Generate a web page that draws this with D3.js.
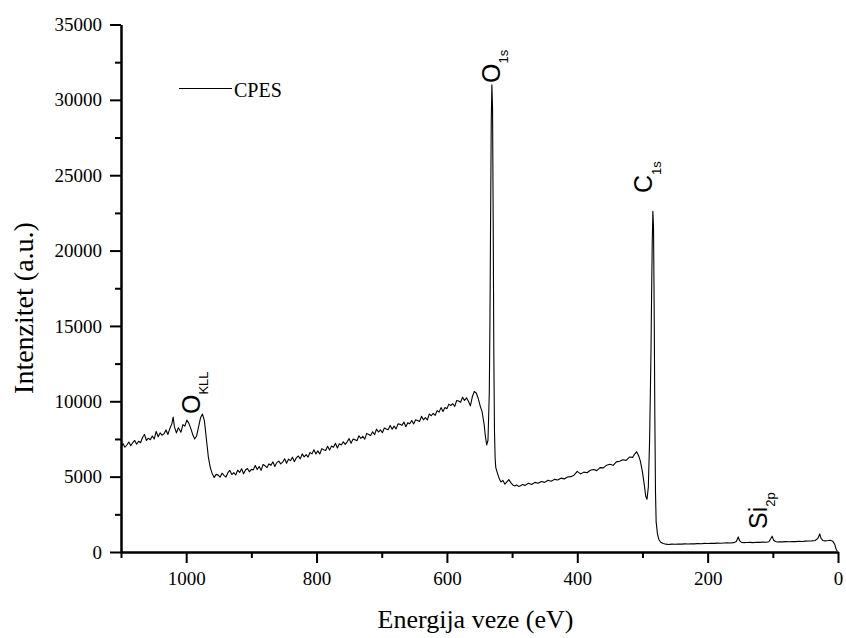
<!DOCTYPE html>
<html>
<head>
<meta charset="utf-8">
<script src="https://cdn.jsdelivr.net/npm/d3@7"></script>
<style>
  html, body { margin: 0; padding: 0; background: #fff; }
  svg { display: block; }
  .serif { font-family: "Liberation Serif", "Times New Roman", Times, Tinos, "DejaVu Serif", "Noto Serif", serif; }
  .sans { font-family: "Liberation Sans", Arial, Helvetica, Arimo, sans-serif; }
</style>
</head>
<body>
<svg id="chart" width="846" height="638"></svg>
<script>
// ---- Data ----
const energy = [
  1100,1097,1094,1091,1088,1085,1082,1079,1076,1073,1070,1067,1064,1061,1058,1055,1052,1049,1046,1043,1040,1037,1034,1031,1028,1025,
  1022,1020,1018,1015,1012,1008,1005,1002,999,996,993,990,987,984,981,978,975,972,969,966,963,960,957,954,
  951,948,945,942,939,936,933,930,927,924,921,918,915,912,909,906,903,900,
  897,894,891,888,885,882,879,876,873,870,867,864,861,858,855,852,
  849,846,843,840,837,834,831,828,825,822,819,816,813,810,807,804,801,
  798,795,792,789,786,783,780,777,774,771,768,765,762,759,756,753,750,
  747,744,741,738,735,732,729,726,723,720,717,714,711,708,705,702,
  699,696,693,690,687,684,681,678,675,672,669,666,663,660,657,654,651,
  648,645,642,639,636,633,630,627,624,621,618,615,612,609,606,603,600,597,594,591,588,585,582,579,576,573,570,
  567,564,561,558,555,552,549,546,543,541,539,537,
  535,534,533,532,531,530,529,528,527,526,525,
  523,520,517,514,511,508,505,502,499,496,493,490,487,484,
  480,475,470,465,460,455,450,445,440,435,430,425,420,415,410,405,400,395,390,385,380,375,370,365,360,355,350,345,340,335,330,325,320,315,
  312,309,306,303,300,297,295,293,291,
  289,287,286,285,284,283,282,281,280,279,277,275,272,268,264,260,
  255,250,245,240,235,230,225,220,215,210,205,200,195,190,185,180,175,170,165,160,
  156,153,151,148,144,140,135,130,125,120,115,110,106,103,101,99,96,93,90,
  85,80,75,70,65,60,55,50,45,40,35,31,28,26,23,20,15,12,8,5,3,1
];
const intensity = [
  6900,7200,6950,7100,7300,7050,7250,7400,7150,7350,7250,7600,7800,7400,7550,7450,7700,7500,8000,7650,7900,7750,7850,8100,7800,8200,
  8500,8950,8300,7900,8250,7950,8450,8350,8750,8550,8200,7800,7500,7700,8300,8900,9150,8700,7500,6300,5600,5200,4950,5150,
  5100,4960,5230,5090,4970,5260,5410,5140,5270,5110,5430,5280,5530,5190,5440,5540,5320,5480,
  5450,5740,5470,5670,5420,5810,5720,5600,5850,5750,5980,5670,5930,6030,5850,5960,
  6190,5890,6160,6060,6290,5990,6250,6370,6180,6510,6310,6460,6300,6600,6510,6780,6500,
  6710,6500,6860,6780,6740,7010,6760,7030,6950,7210,6900,7180,7100,7310,7140,7310,7520,
  7220,7490,7450,7380,7710,7530,7680,7490,7870,7800,7730,7980,7780,8150,7960,8110,
  7910,8230,8160,8120,8400,8150,8350,8170,8500,8480,8400,8620,8310,8580,8510,8720,8500,
  8770,8730,8660,9000,8770,8920,8760,9160,9040,9200,9070,9380,9280,9580,9320,9590,9510,9810,9720,9840,9660,10050,10020,9940,10270,10050,10230,
  10000,9700,10300,10650,10550,10200,9700,9300,8500,7700,7100,7400,
  10500,15000,22000,28500,31000,29500,22000,13000,8000,6200,5600,
  5300,4900,4650,4750,4500,4650,4800,4600,4450,4380,4450,4350,4400,4480,
  4420,4560,4480,4620,4560,4680,4620,4760,4690,4820,4780,4900,4850,4980,5000,5100,5350,5180,5300,5260,5420,5480,5400,5600,5580,5760,5820,5750,5980,6020,6120,6080,6300,6280,
  6500,6650,6400,6000,5300,4400,3700,3500,4300,
  7500,13000,17000,20500,22600,21500,16000,9000,4000,2000,1200,850,650,560,520,500,
  520,510,530,520,540,530,550,540,560,550,570,560,580,570,590,580,600,610,600,620,
  700,1000,750,640,620,630,640,620,650,640,660,650,680,900,1050,800,700,660,680,
  670,690,680,700,690,710,700,720,730,740,760,900,1200,900,760,740,760,780,720,500,200,50
];
const xTicks = [1000, 800, 600, 400, 200, 0];
const xMinorTicks = [1100, 900, 700, 500, 300, 100];
const yTicks = [0, 5000, 10000, 15000, 20000, 25000, 30000, 35000];
const yMinorTicks = [2500, 7500, 12500, 17500, 22500, 27500, 32500];
const peakLabels = [
  { main: "O", sub: "1s" },
  { main: "C", sub: "1s" },
  { main: "O", sub: "KLL" },
  { main: "Si", sub: "2p" }
];
const seriesName = "CPES";
const xTitle = "Energija veze (eV)";
const yTitle = "Intenzitet (a.u.)";

// ---- Layout ----
const svg = d3.select("#chart");
const mLeft = 121, mRight = 838, mTop = 24.5, mBottom = 552;

svg.append("rect").attr("width", 846).attr("height", 638).attr("fill", "#fff");

const x = d3.scaleLinear().domain([1100, 0]).range([mLeft, mRight]);
const y = d3.scaleLinear().domain([0, 35000]).range([mBottom, mTop]);

// spectrum
const pts = energy.map((e, i) => [e, intensity[i]]);
const line = d3.line().x(d => x(d[0])).y(d => y(d[1]));
svg.append("path").datum(pts)
  .attr("d", line)
  .attr("fill", "none")
  .attr("stroke", "#000")
  .attr("stroke-width", 1.1)
  .attr("stroke-linejoin", "round");

// axes
const xAxis = d3.axisBottom(x).tickValues(xTicks).tickSize(11).tickSizeOuter(0).tickPadding(9).tickFormat(d3.format("d"));
const xMinor = d3.axisBottom(x).tickValues(xMinorTicks).tickSize(6).tickSizeOuter(0).tickFormat("");
const yAxis = d3.axisLeft(y).tickValues(yTicks).tickSize(11).tickSizeOuter(0).tickPadding(8).tickFormat(d3.format("d"));
const yMinor = d3.axisLeft(y).tickValues(yMinorTicks).tickSize(6).tickSizeOuter(0).tickFormat("");

function styleAxis(g) {
  g.attr("font-family", null).attr("font-size", null).attr("class", "serif");
  g.selectAll("path.domain").attr("stroke", "#000").attr("stroke-width", 2);
  g.selectAll(".tick line").attr("stroke", "#000").attr("stroke-width", 2);
  g.selectAll(".tick text").attr("fill", "#000").style("font-size", "19px");
}
svg.append("g").attr("transform", `translate(0,${mBottom})`).call(xMinor).call(styleAxis);
svg.append("g").attr("transform", `translate(0,${mBottom})`).call(xAxis).call(styleAxis);
svg.append("g").attr("transform", `translate(${mLeft},0)`).call(yMinor).call(styleAxis);
svg.append("g").attr("transform", `translate(${mLeft},0)`).call(yAxis).call(styleAxis);

// axis titles
svg.append("text").attr("class", "serif")
  .attr("x", (mLeft + mRight) / 2 - 4).attr("y", 628)
  .attr("text-anchor", "middle")
  .style("font-size", "26px")
  .text(xTitle);
svg.append("text").attr("class", "serif")
  .attr("transform", `translate(33,${308}) rotate(-90)`)
  .attr("text-anchor", "middle")
  .style("font-size", "28px")
  .text(yTitle);

// legend
svg.append("line").attr("x1", 179).attr("x2", 232).attr("y1", 88.5).attr("y2", 88.5)
  .attr("stroke", "#000").attr("stroke-width", 1.2);
svg.append("text").attr("class", "serif").attr("x", 234).attr("y", 96.5)
  .style("font-size", "20px")
  .text(seriesName);

// peak labels (rotated)
const labelPos = {
  "O1s":  { bx: 500, sy: 83, sub: 8 },
  "C1s":  { bx: 652, sy: 193, sub: 9 },
  "OKLL": { bx: 200, sy: 414, sub: 8 },
  "Si2p": { bx: 767, sy: 529, sub: 8 }
};
peakLabels.forEach(p => {
  const key = p.main + p.sub;
  const pos = labelPos[key];
  const t = svg.append("text").attr("class", "sans")
    .attr("transform", `translate(${pos.bx},${pos.sy}) rotate(-90)`);
  t.append("tspan").style("font-size", "25px").text(p.main);
  t.append("tspan").attr("dy", pos.sub).style("font-size", "13px").text(p.sub);
});
</script>
</body>
</html>
